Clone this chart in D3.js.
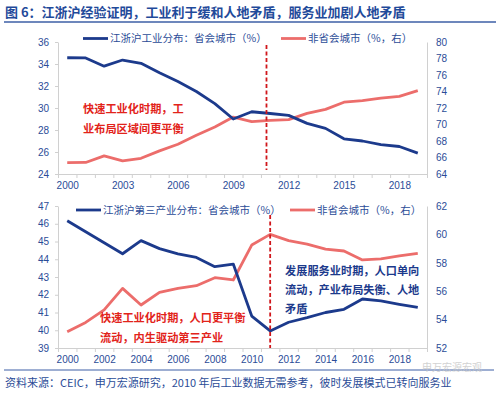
<!DOCTYPE html>
<html><head><meta charset="utf-8">
<script src="https://cdn.jsdelivr.net/npm/d3@7/dist/d3.min.js"></script>
<style>
body{margin:0;background:#fff;}
svg{display:block;font-family:"Liberation Sans","Noto Sans CJK SC",sans-serif;}
.cjk{font-family:"Noto Sans CJK SC","Liberation Sans",sans-serif;}
</style></head>
<body>
<script>
// ---- data ----
const years = d3.range(2000, 2020);
const topCapital = [34.57,34.55,33.8,34.36,34.06,33.2,32.4,31.5,30.4,29.0,29.66,29.5,29.33,28.6,28.15,27.2,27.0,26.67,26.5,25.9];
const topOther   = [65.37,65.4,66.2,65.6,65.9,66.8,67.6,68.7,69.7,70.9,70.34,70.5,70.6,71.35,71.84,72.7,72.9,73.2,73.4,74.1];
const botCapital = [46.17,45.55,44.93,44.31,45.05,44.6,44.3,44.1,43.58,43.73,40.8,39.96,40.45,40.71,41.0,41.18,41.76,41.65,41.46,41.29];
const botOther   = [53.15,53.8,54.68,56.2,55.03,55.92,56.2,56.39,56.95,56.79,59.25,60.0,59.56,59.32,58.97,58.83,58.2,58.27,58.48,58.67];
const topLeftTicks = [24,26,28,30,32,34,36];
const topRightTicks = [64,66,68,70,72,74,76,78,80];
const botLeftTicks = [39,40,41,42,43,44,45,46,47];
const botRightTicks = [52,54,56,58,60,62];
const topXLabels = [2000,2003,2006,2009,2012,2015,2018];
const botXLabels = [2000,2002,2004,2006,2008,2010,2012,2014,2016,2018];
const topMarkerYear = 2010.8, botMarkerYear = 2011;

const title = "图 6：江浙沪经验证明，工业利于缓和人地矛盾，服务业加剧人地矛盾";
const source = "资料来源：CEIC，申万宏源研究，2010 年后工业数据无需参考，彼时发展模式已转向服务业";

const NAVY = "#1c3a8c", SALMON = "#ec6d6b", TXT = "#2b4c97", AX = "#d0d0d0";

const svg = d3.select("body").append("svg").attr("width",500).attr("height",396);

// title
svg.append("text").attr("class","cjk").attr("x",5).attr("y",17)
  .attr("font-size",13).attr("font-weight","bold").attr("fill","#1f4a9a").text(title);
svg.append("line").attr("x1",4).attr("x2",496).attr("y1",22).attr("y2",22)
  .attr("stroke","#3d5fa6").attr("stroke-width",1.5);

function panel(cfg){
  const x = d3.scaleLinear().domain([2000,2020]).range([58,427]);
  const yl = d3.scaleLinear().domain(cfg.ld).range([cfg.bottom, cfg.top]);
  const yr = d3.scaleLinear().domain(cfg.rd).range([cfg.bottom, cfg.top]);
  const g = svg.append("g");
  // x axis: ticks at boundaries
  const xa = g.append("g").attr("transform",`translate(0,${cfg.bottom})`)
    .call(d3.axisBottom(x).tickValues(d3.range(2000,2021)).tickFormat("").tickSize(4).tickSizeOuter(0));
  xa.select(".domain").attr("stroke",AX);
  xa.selectAll(".tick line").attr("stroke",AX);
  const xl = g.append("g").attr("transform",`translate(0,${cfg.bottom})`)
    .call(d3.axisBottom(x).tickValues(cfg.xLabels.map(v=>v+0.5)).tickFormat(v=>Math.floor(v)).tickSize(0).tickPadding(8));
  xl.select(".domain").remove();
  xl.selectAll("text").attr("font-size",10).attr("fill",TXT).attr("font-family","Liberation Sans");
  // left axis
  const la = g.append("g").attr("transform","translate(58,0)")
    .call(d3.axisLeft(yl).tickValues(cfg.lt).tickSize(3).tickPadding(6).tickSizeOuter(0));
  la.select(".domain").attr("stroke",AX);
  la.selectAll(".tick line").attr("stroke",AX);
  la.selectAll("text").attr("font-size",10).attr("fill",TXT).attr("font-family","Liberation Sans");
  // right axis
  const ra = g.append("g").attr("transform","translate(427,0)")
    .call(d3.axisRight(yr).tickValues(cfg.rt).tickSize(0).tickPadding(9).tickSizeOuter(0));
  ra.select(".domain").attr("stroke",AX);
  ra.selectAll("text").attr("font-size",10).attr("fill",TXT).attr("font-family","Liberation Sans");
  // lines
  const lineL = d3.line().x((d,i)=>x(years[i]+0.5)).y(d=>yl(d));
  const lineR = d3.line().x((d,i)=>x(years[i]+0.5)).y(d=>yr(d));
  g.append("path").datum(cfg.other).attr("d",lineR).attr("fill","none")
    .attr("stroke",SALMON).attr("stroke-width",2.8).attr("stroke-linejoin","round");
  g.append("path").datum(cfg.capital).attr("d",lineL).attr("fill","none")
    .attr("stroke",NAVY).attr("stroke-width",2.8).attr("stroke-linejoin","round");
  // marker line
  g.append("line").attr("x1",x(cfg.marker+0.5)).attr("x2",x(cfg.marker+0.5))
    .attr("y1",cfg.mTop).attr("y2",cfg.mBot)
    .attr("stroke","#d0161b").attr("stroke-width",1.8).attr("stroke-dasharray","4,2.5");
  // legend
  const lg = g.append("g").attr("class","cjk");
  lg.append("line").attr("x1",cfg.leg[0]).attr("x2",cfg.leg[0]+25).attr("y1",cfg.legY).attr("y2",cfg.legY)
    .attr("stroke",NAVY).attr("stroke-width",2.8);
  lg.append("text").attr("x",cfg.leg[0]+27).attr("y",cfg.legY+3.5).attr("font-size",10.5).attr("fill",TXT).text(cfg.legText);
  lg.append("line").attr("x1",cfg.leg[1]).attr("x2",cfg.leg[1]+25).attr("y1",cfg.legY).attr("y2",cfg.legY)
    .attr("stroke",SALMON).attr("stroke-width",2.8);
  lg.append("text").attr("x",cfg.leg[1]+27).attr("y",cfg.legY+3.5).attr("font-size",10.5).attr("fill",TXT).text("非省会城市（%，右）");
  // notes
  cfg.notes.forEach(n=>{
    n.lines.forEach((t,i)=>{
      g.append("text").attr("class","cjk").attr("x",n.x).attr("y",n.y+i*n.dy)
        .attr("font-size",11.2).attr("font-weight","bold").attr("fill",n.color).text(t);
    });
  });
}

panel({ld:[24,36], rd:[64,80], top:42, bottom:174, lt:topLeftTicks, rt:topRightTicks,
  xLabels:topXLabels, capital:topCapital, other:topOther, marker:topMarkerYear, mTop:45, mBot:170,
  leg:[83,281], legY:38.5, legText:"江浙沪工业分布：省会城市（%）",
  notes:[{x:83, y:113, dy:19.5, color:"#e2231a", lines:["快速工业化时期，工","业布局区域间更平衡"]}]});

panel({ld:[39,47], rd:[52,62], top:206, bottom:348, lt:botLeftTicks, rt:botRightTicks,
  xLabels:botXLabels, capital:botCapital, other:botOther, marker:botMarkerYear, mTop:215, mBot:348,
  leg:[76,290], legY:210, legText:"江浙沪第三产业分布：省会城市（%）",
  notes:[{x:100, y:322, dy:20, color:"#e2231a", lines:["快速工业化时期，人口更平衡","流动，内生驱动第三产业"]},
         {x:285, y:275, dy:19, color:"#1c3a8c", lines:["发展服务业时期，人口单向","流动，产业布局失衡、人地","矛盾"]}]});

// footer
svg.append("line").attr("x1",4).attr("x2",494).attr("y1",370).attr("y2",370)
  .attr("stroke","#3d5fa6").attr("stroke-width",1);
svg.append("text").attr("class","cjk").attr("x",5).attr("y",387).attr("font-size",11)
  .attr("fill","#2b4c97").text(source);
svg.append("text").attr("class","cjk").attr("x",422).attr("y",371).attr("font-size",10)
  .attr("fill","#c8c8c8").attr("opacity",0.8).text("申万宏源宏观");
</script>
</body></html>
